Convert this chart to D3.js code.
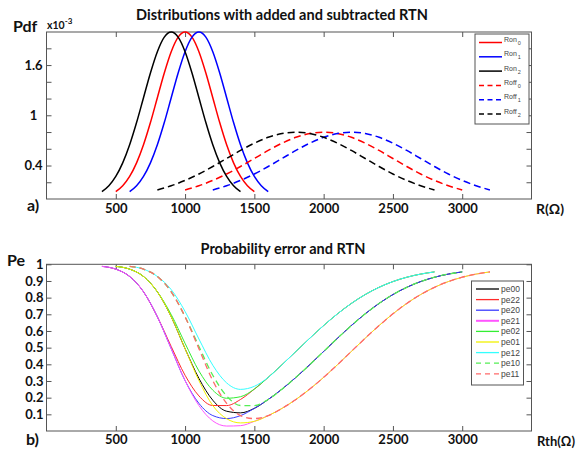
<!DOCTYPE html>
<html>
<head>
<meta charset="utf-8">
<script src="https://cdn.jsdelivr.net/npm/d3@7"></script>
<style>
body { margin: 0; background: #fff; }
svg { display: block; }
.lbl { font-family: Lato, "Open Sans", sans-serif; font-weight: 700; fill: #111; }
.leg { font-family: "Liberation Sans", Arial, sans-serif; fill: #444; }
</style>
</head>
<body>
<svg id="chart" width="579" height="452"></svg>
<script>
//
// Data (pdf in units of 1e-3)
//
var ronPdf  = [0.088,0.159,0.270,0.432,0.648,0.913,1.210,1.506,1.760,1.934,1.995,1.934,1.760,1.506,1.210,0.913,0.648,0.432,0.270,0.159,0.088];
var ron0R   = [500,550,600,650,700,750,800,850,900,950,1000,1050,1100,1150,1200,1250,1300,1350,1400,1450,1500];
var ron1R   = [600,650,700,750,800,850,900,950,1000,1050,1100,1150,1200,1250,1300,1350,1400,1450,1500,1550,1600];
var ron2R   = [400,450,500,550,600,650,700,750,800,850,900,950,1000,1050,1100,1150,1200,1250,1300,1350,1400];
var roffPdf = [0.108,0.158,0.222,0.299,0.388,0.484,0.580,0.667,0.737,0.782,0.798,0.782,0.737,0.667,0.580,0.484,0.388,0.299,0.222,0.158,0.108];
var roff0R  = [1000,1100,1200,1300,1400,1500,1600,1700,1800,1900,2000,2100,2200,2300,2400,2500,2600,2700,2800,2900,3000];
var roff1R  = [1200,1300,1400,1500,1600,1700,1800,1900,2000,2100,2200,2300,2400,2500,2600,2700,2800,2900,3000,3100,3200];
var roff2R  = [800,900,1000,1100,1200,1300,1400,1500,1600,1700,1800,1900,2000,2100,2200,2300,2400,2500,2600,2700,2800];

var rth  = [400,500,600,700,800,900,1000,1100,1200,1300,1400,1500,1600,1700,1800,1900,2000,2100,2200,2300,2400,2500,2600,2700,2800,2900,3000,3100,3200];
var pe00 = [null,.9876,.9710,.9270,.8351,.6853,.4938,.3154,.1845,.1186,.1089,.1359,.1891,.2515,.3218,.3979,.4772,.5565,.6326,.7029,.7653,.8185,.8621,.8964,.9224,.9413,.9544,null,null];
var pe22 = [.9876,.9710,.9270,.8351,.6853,.5069,.3343,.2105,.1529,.1525,.1891,.2515,.3218,.3979,.4772,.5565,.6326,.7029,.7653,.8185,.8621,.8964,.9224,.9413,.9544,null,null,null,null];
var pe20 = [.9876,.9710,.9270,.8351,.6853,.4938,.3023,.1656,.0926,.0746,.0923,.1359,.1891,.2515,.3218,.3979,.4772,.5565,.6326,.7029,.7653,.8185,.8621,.8964,.9224,.9413,.9544,null,null];
var pe21 = [.9876,.9710,.9270,.8351,.6853,.4938,.3023,.1525,.0606,.0297,.0320,.0580,.0923,.1359,.1891,.2515,.3218,.3979,.4772,.5565,.6326,.7029,.7653,.8185,.8621,.8964,.9224,.9413,.9544];
var pe02 = [null,.9876,.9710,.9270,.8351,.6984,.5258,.3603,.2448,.1965,.2057,.2515,.3218,.3979,.4772,.5565,.6326,.7029,.7653,.8185,.8621,.8964,.9224,.9413,.9544,null,null,null,null];
var pe01 = [null,.9876,.9710,.9270,.8351,.6853,.4938,.3023,.1525,.0737,.0486,.0580,.0923,.1359,.1891,.2515,.3218,.3979,.4772,.5565,.6326,.7029,.7653,.8185,.8621,.8964,.9224,.9413,.9544];
var pe12 = [null,null,.9876,.9710,.9270,.8482,.7173,.5518,.3946,.2884,.2497,.2681,.3218,.3979,.4772,.5565,.6326,.7029,.7653,.8185,.8621,.8964,.9224,.9413,.9544,null,null,null,null];
var pe10 = [null,null,.9876,.9710,.9270,.8351,.6853,.5069,.3343,.2105,.1529,.1525,.1891,.2515,.3218,.3979,.4772,.5565,.6326,.7029,.7653,.8185,.8621,.8964,.9224,.9413,.9544,null,null];
var pe11 = [null,null,.9876,.9710,.9270,.8351,.6853,.4938,.3023,.1656,.0926,.0746,.0923,.1359,.1891,.2515,.3218,.3979,.4772,.5565,.6326,.7029,.7653,.8185,.8621,.8964,.9224,.9413,.9544];

var xTicks   = [500,1000,1500,2000,2500,3000];
var pdfTicks = [0.2,0.4,0.6,0.8,1,1.2,1.4,1.6,1.8];
var pdfLabels = [0.4,1,1.6];
var peTicks  = [0.1,0.2,0.3,0.4,0.5,0.6,0.7,0.8,0.9,1];

var topSeries = [
	{name:"Ron", sub:"0", r:ron0R,  v:ronPdf,  color:"#ff0000", dash:null},
	{name:"Ron", sub:"1", r:ron1R,  v:ronPdf,  color:"#0000ff", dash:null},
	{name:"Ron", sub:"2", r:ron2R,  v:ronPdf,  color:"#000000", dash:null},
	{name:"Roff", sub:"0", r:roff0R, v:roffPdf, color:"#ff0000", dash:"7,4"},
	{name:"Roff", sub:"1", r:roff1R, v:roffPdf, color:"#0000ff", dash:"7,4"},
	{name:"Roff", sub:"2", r:roff2R, v:roffPdf, color:"#000000", dash:"7,4"}
];
var botSeries = [
	{name:"pe00", v:pe00, color:"#000000", dash:null},
	{name:"pe22", v:pe22, color:"#ff2a2a", dash:null},
	{name:"pe20", v:pe20, color:"#3a3aff", dash:null},
	{name:"pe21", v:pe21, color:"#ff55ff", dash:null},
	{name:"pe02", v:pe02, color:"#33ee33", dash:null},
	{name:"pe01", v:pe01, color:"#f2f200", dash:null},
	{name:"pe12", v:pe12, color:"#33ffff", dash:null},
	{name:"pe10", v:pe10, color:"#55ee55", dash:"6,4"},
	{name:"pe11", v:pe11, color:"#ff6a6a", dash:"6,4"}
];

var svg = d3.select("#chart");
var L = 46.5, R = 531.5;
var axisColor = "#555";
var fmt = d3.format("d");

function box(g, x, y)
{
	var xr = x.range(), yr = y.range();
	g.append("rect")
		.attr("x", xr[0]).attr("y", yr[1])
		.attr("width", xr[1] - xr[0]).attr("height", yr[0] - yr[1])
		.attr("fill", "none").attr("stroke", axisColor).attr("stroke-width", 1);
}
function styleAxis(sel)
{
	sel.select(".domain").remove();
	sel.selectAll(".tick line").attr("stroke", axisColor);
	sel.selectAll("text").attr("class", "lbl").style("font-size", "13px").attr("fill", "#111");
}

//
// Panel a)
//
var xA = d3.scaleLinear().domain([0, 3500]).range([L, R]);
var yA = d3.scaleLinear().domain([0, 1.995]).range([199, 32]);
var gA = svg.append("g");

gA.append("g").attr("transform", "translate(0,199)")
	.call(d3.axisBottom(xA).tickValues(xTicks).tickSizeInner(-5).tickSizeOuter(0).tickPadding(5).tickFormat(fmt))
	.call(styleAxis);
gA.append("g").attr("transform", "translate(0,32)")
	.call(d3.axisTop(xA).tickValues(xTicks).tickSizeInner(-5).tickSizeOuter(0).tickFormat(""))
	.call(styleAxis);
gA.append("g").attr("transform", "translate(" + L + ",0)")
	.call(d3.axisLeft(yA).tickValues(pdfTicks).tickSizeInner(-5).tickSizeOuter(0)
		.tickFormat(function(d) { return pdfLabels.indexOf(d) >= 0 ? d : ""; }))
	.call(styleAxis)
	.selectAll("text").attr("text-anchor", "middle").attr("x", -13);
gA.append("g").attr("transform", "translate(" + R + ",0)")
	.call(d3.axisRight(yA).tickValues(pdfTicks).tickSizeInner(-5).tickSizeOuter(0).tickFormat(""))
	.call(styleAxis);
box(gA, xA, yA);

var lineA = d3.line().curve(d3.curveMonotoneX)
	.x(function(d) { return xA(d[0]); })
	.y(function(d) { return yA(d[1]); });
topSeries.forEach(function(s)
{
	var pts = s.r.map(function(r, i) { return [r, s.v[i]]; });
	gA.append("path").attr("d", lineA(pts))
		.attr("fill", "none").attr("stroke", s.color).attr("stroke-width", 1.5)
		.attr("stroke-dasharray", s.dash);
});

// legend a)
var legA = gA.append("g");
legA.append("rect").attr("x", 475).attr("y", 34).attr("width", 54).attr("height", 90)
	.attr("fill", "#fff").attr("stroke", axisColor);
topSeries.forEach(function(s, i)
{
	var y = 42.5 + i * 14.3;
	legA.append("line").attr("x1", 479).attr("x2", 502).attr("y1", y).attr("y2", y)
		.attr("stroke", s.color).attr("stroke-width", 1.5).attr("stroke-dasharray", s.dash ? "5,3.5" : null);
	var t = legA.append("text").attr("class", "leg").attr("x", 504).attr("y", y - 0.5).style("font-size", "7px");
	t.append("tspan").text(s.name);
	t.append("tspan").attr("dx", 1).attr("dy", 3).style("font-size", "5.5px").text(s.sub);
});

//
// Panel b)
//
var xB = d3.scaleLinear().domain([0, 3500]).range([L, R]);
var yB = d3.scaleLinear().domain([0, 1]).range([431, 264.3]);
var gB = svg.append("g");

gB.append("g").attr("transform", "translate(0,431)")
	.call(d3.axisBottom(xB).tickValues(xTicks).tickSizeInner(-5).tickSizeOuter(0).tickPadding(4).tickFormat(fmt))
	.call(styleAxis);
gB.append("g").attr("transform", "translate(0,264.3)")
	.call(d3.axisTop(xB).tickValues(xTicks).tickSizeInner(-5).tickSizeOuter(0).tickFormat(""))
	.call(styleAxis);
gB.append("g").attr("transform", "translate(" + L + ",0)")
	.call(d3.axisLeft(yB).tickValues(peTicks).tickSizeInner(-5).tickSizeOuter(0).tickPadding(3).tickFormat(d3.format("")))
	.call(styleAxis);
gB.append("g").attr("transform", "translate(" + R + ",0)")
	.call(d3.axisRight(yB).tickValues(peTicks).tickSizeInner(-5).tickSizeOuter(0).tickFormat(""))
	.call(styleAxis);
box(gB, xB, yB);

var lineB = d3.line().curve(d3.curveMonotoneX)
	.defined(function(d) { return d[1] != null; })
	.x(function(d) { return xB(d[0]); })
	.y(function(d) { return yB(d[1]); });
botSeries.forEach(function(s)
{
	var pts = rth.map(function(r, i) { return [r, s.v[i]]; });
	gB.append("path").attr("d", lineB(pts))
		.attr("fill", "none").attr("stroke", s.color).attr("stroke-width", s.dash ? 1.3 : 1)
		.attr("stroke-dasharray", s.dash);
});

// legend b)
var legB = gB.append("g");
legB.append("rect").attr("x", 471.5).attr("y", 281).attr("width", 52).attr("height", 104)
	.attr("fill", "#fff").attr("stroke", axisColor);
botSeries.forEach(function(s, i)
{
	var y = 289 + i * 10.6;
	legB.append("line").attr("x1", 476).attr("x2", 499).attr("y1", y).attr("y2", y)
		.attr("stroke", s.color).attr("stroke-width", s.name == "pe21" ? 2 : 1.3)
		.attr("stroke-dasharray", s.dash ? "5,4" : null);
	legB.append("text").attr("class", "leg").attr("x", 501).attr("y", y + 3)
		.style("font-size", "8.5px").text(s.name);
});

//
// Titles and labels
//
function label(x, y, str, size, anchor)
{
	return svg.append("text").attr("class", "lbl").attr("x", x).attr("y", y)
		.attr("text-anchor", anchor || "start").style("font-size", size + "px").text(str);
}
label(282, 20, "Distributions with added and subtracted RTN", 14.5, "middle");
label(13, 32, "Pdf", 16);
var ex = label(47, 29, "x10", 10.5);
ex.append("tspan").attr("dy", -5).style("font-size", "8px").text("-3");
label(27, 211, "a)", 16);
label(536, 214, "R(\u03a9)", 14);

label(283, 254, "Probability error and RTN", 14.5, "middle");
label(7, 266, "Pe", 16);
label(26, 445, "b)", 16);
label(537, 446, "Rth(\u03a9)", 13);
</script>
</body>
</html>
